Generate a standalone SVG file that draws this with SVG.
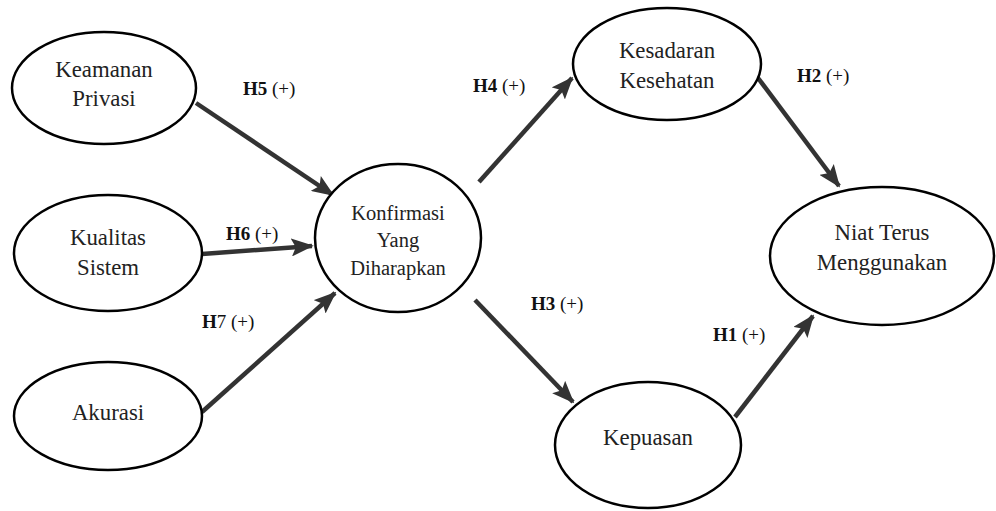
<svg xmlns="http://www.w3.org/2000/svg" width="996" height="511" viewBox="0 0 996 511">
<style>
text{font-family:'Liberation Serif','Times New Roman',serif}
.node{fill:#fff;stroke:#000;stroke-width:2.5}
.t{font-size:22.8px;fill:#222;text-anchor:middle}
.t2{font-size:20.5px;fill:#222;text-anchor:middle}
.lbl{font-size:19px;fill:#111}
.b{font-weight:bold}
.edge{stroke:#333;stroke-width:4.5;fill:none;marker-end:url(#ah)}
</style>
<defs>
<marker id="ah" markerWidth="5" markerHeight="4" refX="4.6" refY="2" orient="auto" markerUnits="strokeWidth">
<path d="M0,0 L5,2 L0,4 L1,2 Z" fill="#333"/>
</marker>
</defs>
<rect width="996" height="511" fill="#fff"/>
<g id="connectors">
<line class="edge" x1="196" y1="103" x2="333" y2="195"/>
<line class="edge" x1="202" y1="254" x2="312" y2="246"/>
<line class="edge" x1="202" y1="412" x2="335" y2="293"/>
<line class="edge" x1="479" y1="182" x2="572" y2="78"/>
<line class="edge" x1="755" y1="74" x2="839" y2="186"/>
<line class="edge" x1="475" y1="300" x2="573" y2="402"/>
<line class="edge" x1="735" y1="417" x2="813" y2="316"/>
</g>
<g id="labels">
<text class="lbl" x="243" y="95"><tspan class="b">H5</tspan> (+)</text>
<text class="lbl" x="226" y="240"><tspan class="b">H6</tspan> (+)</text>
<text class="lbl" x="202" y="328"><tspan class="b">H</tspan>7 (+)</text>
<text class="lbl" x="473" y="92"><tspan class="b">H4</tspan> (+)</text>
<text class="lbl" x="797" y="82"><tspan class="b">H2</tspan> (+)</text>
<text class="lbl" x="531" y="310"><tspan class="b">H3</tspan> (+)</text>
<text class="lbl" x="713" y="341"><tspan class="b">H1</tspan> (+)</text>
</g>
<g id="keamanan-privasi">
<ellipse class="node" cx="104" cy="88" rx="92" ry="56"/>
<text class="t" x="104" y="77">Keamanan</text>
<text class="t" x="104" y="106">Privasi</text>
</g>
<g id="kualitas-sistem">
<ellipse class="node" cx="108" cy="253" rx="94" ry="58"/>
<text class="t" x="108" y="245">Kualitas</text>
<text class="t" x="108" y="275">Sistem</text>
</g>
<g id="akurasi">
<ellipse class="node" cx="108" cy="416" rx="94" ry="54"/>
<text class="t" x="108" y="420">Akurasi</text>
</g>
<g id="konfirmasi">
<ellipse class="node" cx="398" cy="238" rx="83" ry="74"/>
<text class="t2" x="398" y="220">Konfirmasi</text>
<text class="t2" x="398" y="247">Yang</text>
<text class="t2" x="398" y="275">Diharapkan</text>
</g>
<g id="kesadaran-kesehatan">
<ellipse class="node" cx="667" cy="64" rx="94" ry="56"/>
<text class="t" x="667" y="58">Kesadaran</text>
<text class="t" x="667" y="88">Kesehatan</text>
</g>
<g id="niat-terus">
<ellipse class="node" cx="882" cy="256" rx="112" ry="69"/>
<text class="t" x="882" y="240">Niat Terus</text>
<text class="t" x="882" y="270">Menggunakan</text>
</g>
<g id="kepuasan">
<ellipse class="node" cx="648" cy="445" rx="93" ry="63"/>
<text class="t" x="648" y="445">Kepuasan</text>
</g>
</svg>
